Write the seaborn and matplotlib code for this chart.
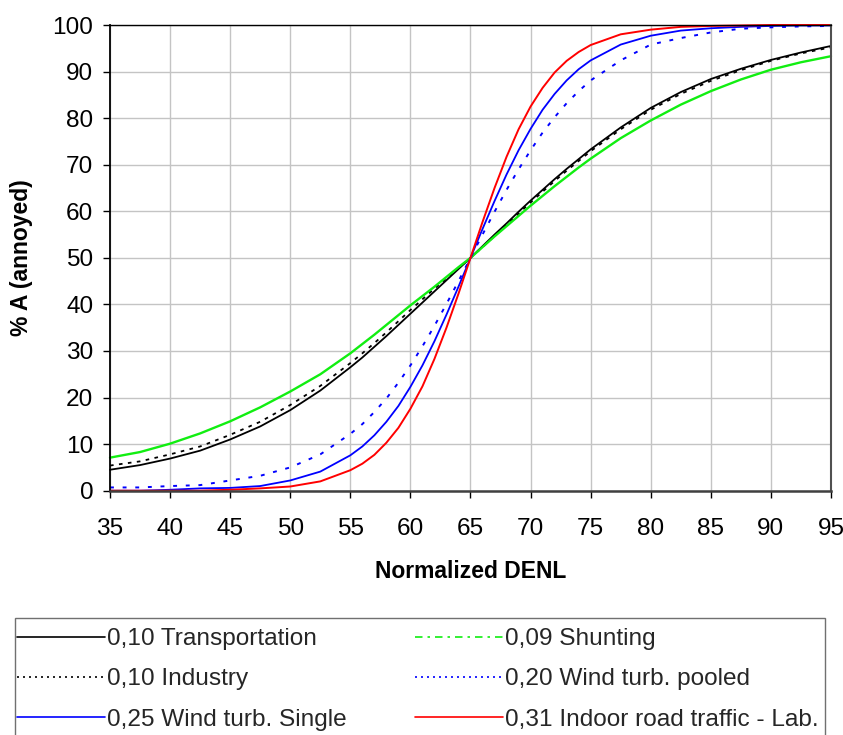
import matplotlib
matplotlib.use("Agg")
import matplotlib.pyplot as plt
import pandas as pd
import seaborn as sns
from matplotlib.lines import Line2D
from matplotlib.patches import Rectangle

# Normalized DENL positions at which the curves are sampled
denl = [35, 37.5, 40, 42.5, 45, 47.5, 50, 52.5, 55,
        56, 57, 58, 59, 60, 61, 62, 63, 64, 65, 66, 67, 68, 69, 70,
        71, 72, 73, 74, 75,
        77.5, 80, 82.5, 85, 87.5, 90, 92.5, 95]

# % annoyed for each source
transportation = [4.5, 5.5, 6.9, 8.6, 11.0, 13.8, 17.3, 21.5, 26.5,
                  28.6, 30.9, 33.2, 35.6, 38.0, 40.4, 42.8, 45.2, 47.6, 50.0,
                  52.5, 55.0, 57.4, 59.9, 62.3, 64.6, 66.9, 69.1, 71.2, 73.3,
                  78.0, 82.2, 85.6, 88.4, 90.6, 92.5, 94.1, 95.5]
industry = [5.4, 6.3, 7.8, 9.5, 12.0, 14.8, 18.4, 22.5, 27.4,
            29.5, 31.7, 34.0, 36.4, 38.8, 41.1, 43.4, 45.6, 47.8, 50.0,
            52.3, 54.7, 57.1, 59.5, 61.9, 64.2, 66.5, 68.7, 70.8, 72.9,
            77.6, 81.8, 85.2, 88.0, 90.3, 92.3, 93.9, 95.2]
shunting = [7.1, 8.3, 10.1, 12.3, 14.9, 17.9, 21.3, 25.0, 29.5,
            31.5, 33.5, 35.6, 37.7, 39.8, 41.8, 43.8, 45.9, 48.0, 50.0,
            52.3, 54.6, 56.8, 59.0, 61.2, 63.3, 65.4, 67.4, 69.4, 71.3,
            75.7, 79.5, 82.9, 85.8, 88.3, 90.4, 92.0, 93.3]
wind_pooled = [0.7, 0.7, 1.0, 1.2, 2.2, 3.2, 5.0, 7.8, 12.2,
               14.3, 16.9, 19.8, 23.2, 26.9, 31.0, 35.4, 40.1, 45.0, 50.0,
               55.0, 59.9, 64.6, 69.0, 73.1, 76.9, 80.2, 83.2, 85.8, 88.1,
               92.4, 95.8, 97.2, 98.4, 99.2, 99.5, 99.7, 99.8]
wind_single = [0.0, 0.0, 0.2, 0.5, 0.6, 1.0, 2.2, 4.1, 7.6,
               9.5, 11.9, 14.8, 18.2, 22.3, 26.9, 32.1, 37.8, 43.8, 50.0,
               56.2, 62.2, 67.9, 73.1, 77.7, 81.8, 85.2, 88.1, 90.5, 92.4,
               95.8, 97.7, 98.8, 99.3, 99.6, 99.8, 99.9, 99.9]
indoor_road = [0.0, 0.0, 0.0, 0.0, 0.2, 0.5, 0.9, 2.0, 4.4,
               5.8, 7.7, 10.3, 13.5, 17.6, 22.4, 28.3, 35.0, 42.3, 50.0,
               57.7, 65.0, 71.7, 77.6, 82.5, 86.5, 89.8, 92.3, 94.2, 95.7,
               98.0, 99.0, 99.6, 99.8, 99.9, 100.0, 100.0, 100.0]

labels = ["0,10 Transportation", "0,10 Industry", "0,25 Wind turb. Single",
          "0,09 Shunting", "0,20 Wind turb. pooled",
          "0,31 Indoor road traffic - Lab."]

sns.set_theme(style="whitegrid")
plt.rcParams["font.family"] = ["Liberation Sans", "DejaVu Sans"]

fig = plt.figure(figsize=(8.43, 7.35), dpi=100)
W, H = 843, 735
ax = fig.add_axes([110 / W, 1 - 490.7 / H, 721 / W, 465.7 / H])

# (values, colour, line width, linestyle in plot, linestyle in legend)
curves = {
    "0,10 Industry": (industry, "black", 1.3, (0, (2, 3)), (0, (1.2, 2.4))),
    "0,10 Transportation": (transportation, "black", 1.3, "-", "-"),
    "0,09 Shunting": (shunting, "#11ee11", 1.7, "-", (0, (4.5, 3, 1.5, 3))),
    "0,20 Wind turb. pooled": (wind_pooled, "#0000ff", 1.4, (0, (2.0, 4.5)), (0, (1.2, 2.4))),
    "0,25 Wind turb. Single": (wind_single, "#0000ff", 1.3, "-", "-"),
    "0,31 Indoor road traffic - Lab.": (indoor_road, "#ff0000", 1.4, "-", "-"),
}

for name, (vals, col, lw, ls, _) in curves.items():
    df = pd.DataFrame({"DENL": denl, "A": vals})
    sns.lineplot(data=df, x="DENL", y="A", color=col, linewidth=lw,
                 linestyle=ls, ax=ax, legend=False, estimator=None, sort=False)
    ax.lines[-1].set_clip_on(False)

ax.set_xlim(35, 95)
ax.set_ylim(0, 100)
ax.set_xticks(range(35, 96, 5))
ax.set_yticks(range(0, 101, 10))
ax.grid(True, color="#c4c4c4", linewidth=1.0)
ax.set_axisbelow(True)
ax.tick_params(axis="both", which="major", direction="out", length=5, width=1,
               color="black", labelsize=17.6, labelcolor="black",
               bottom=True, left=True)
ax.tick_params(axis="x", pad=14.5)
ax.tick_params(axis="y", pad=7)
ax.spines["left"].set_color("black")
ax.spines["left"].set_linewidth(1.3)
ax.spines["top"].set_color("black")
ax.spines["top"].set_linewidth(1.0)
ax.spines["bottom"].set_color("#404040")
ax.spines["bottom"].set_linewidth(1.8)
ax.spines["right"].set_color("#505050")
ax.spines["right"].set_linewidth(1.5)

ax.set_xlabel("Normalized DENL", fontsize=16.5, fontweight="bold", color="black")
ax.set_ylabel("% A (annoyed)", fontsize=16.5, fontweight="bold", color="black")
ax.xaxis.set_label_coords(0.5, (490.7 - 572) / 465.7)
ax.xaxis.label.set_va("center")
ax.yaxis.set_label_coords((22 - 110) / 721, 0.5)
ax.yaxis.label.set_va("center")

def handle(name):
    vals, col, lw, _, lls = curves[name]
    return Line2D([], [], color=col, linewidth=1.2, linestyle=lls)

fs = 17.6
em = fs * 100 / 72
common = dict(loc="upper left", frameon=False, fontsize=fs,
              handlelength=88 / em, handletextpad=0.08,
              labelspacing=0.74, borderpad=0, borderaxespad=0)
left_names = labels[:3]
right_names = labels[3:]
fig.legend([handle(n) for n in left_names], left_names,
           bbox_to_anchor=(17 / W, 1 - 628 / H), **common)
fig.legend([handle(n) for n in right_names], right_names,
           bbox_to_anchor=(415 / W, 1 - 628 / H), **common)
fig.add_artist(Rectangle((15 / W, -0.02), (825 - 15) / W, 0.02 + 1 - 618 / H,
                         transform=fig.transFigure, fill=False,
                         edgecolor="#707070", linewidth=1.0))

fig.savefig("out.png", dpi=100)
